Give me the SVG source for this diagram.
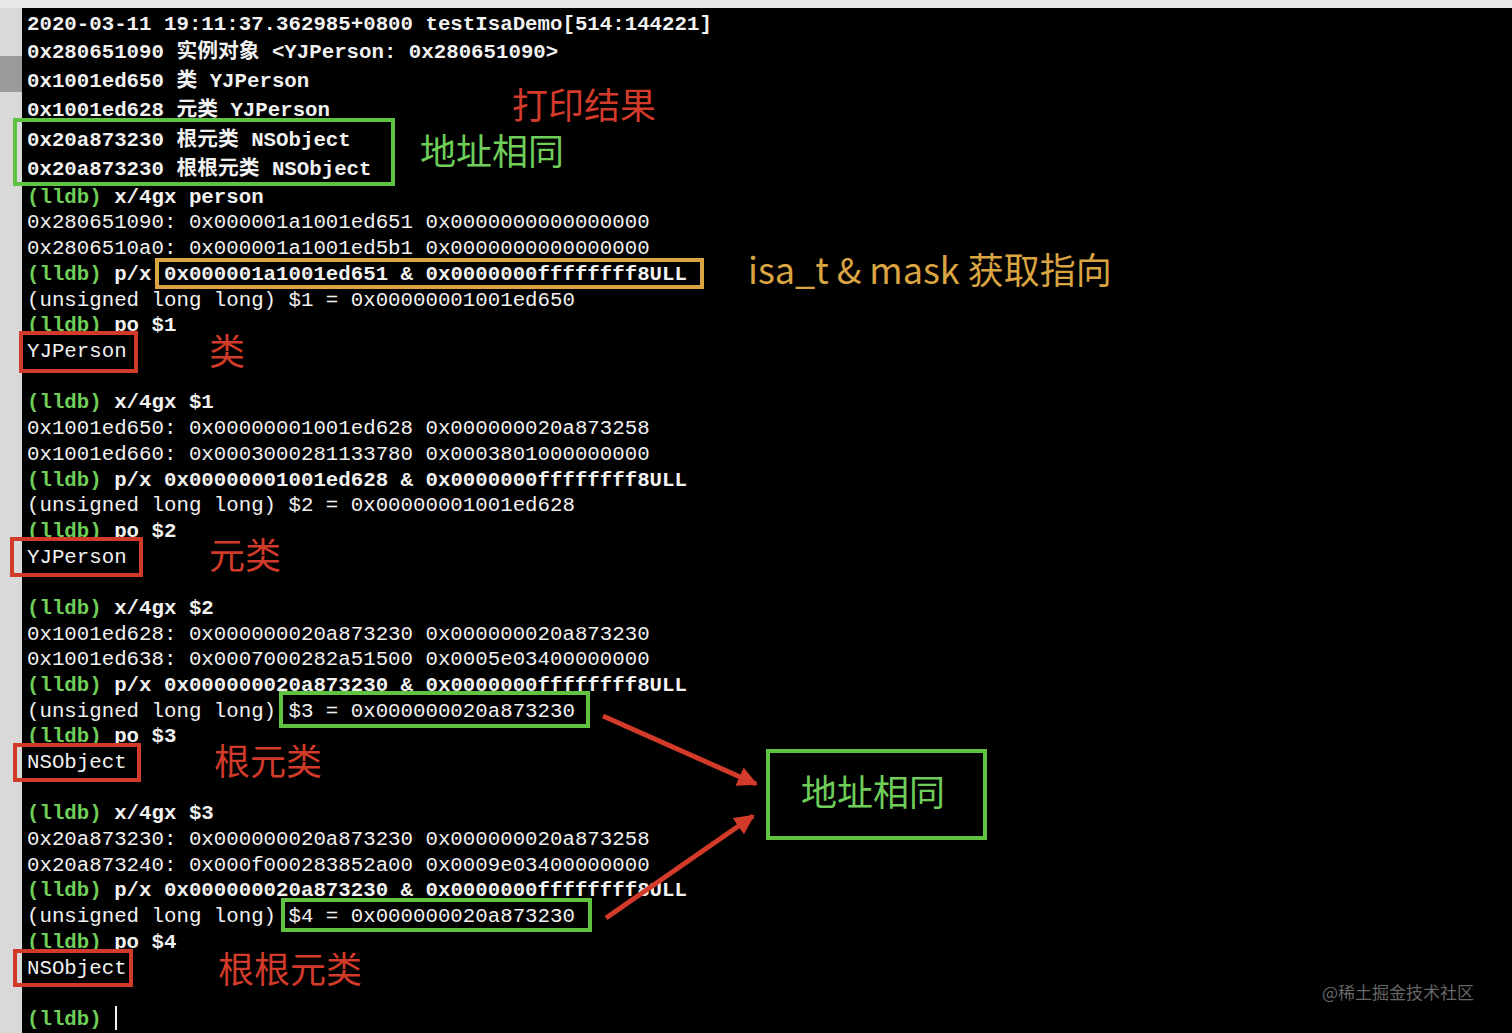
<svg xmlns="http://www.w3.org/2000/svg" width="1512" height="1033" viewBox="0 0 1512 1033">
<style>
.t{font-family:"Liberation Mono","Noto Sans CJK SC",monospace;font-size:20.75px;fill:#f2f2f2;white-space:pre}
.b{font-weight:bold}
.g{fill:#6fce5a}
.r{font-weight:normal}
.red{fill:none;stroke:#d23a2a;stroke-width:4}
.grn{fill:none;stroke:#5fc240;stroke-width:4}
.ann{font-family:"Noto Sans CJK SC","Liberation Sans",sans-serif;font-size:36px}
</style>
<defs><marker id="ah" viewBox="0 0 10 10" refX="9" refY="5" markerWidth="4" markerHeight="4" orient="auto"><path d="M0,0L10,5L0,10z" fill="#d23a2a"/></marker></defs>
<rect width="1512" height="1033" fill="#000"/>
<rect width="22" height="1033" fill="#d9d9d9"/>
<rect x="0" y="56" width="22" height="36" fill="#9a9a9a"/>
<rect width="1512" height="8" fill="#e8e8e8"/>
<g id="terminal" class="t b" xml:space="preserve">
<text x="27" y="30">2020-03-11 19:11:37.362985+0800 testIsaDemo[514:144221]</text>
<text x="27" y="58">0x280651090 实例对象 &lt;YJPerson: 0x280651090&gt;</text>
<text x="27" y="87">0x1001ed650 类 YJPerson</text>
<text x="27" y="116">0x1001ed628 元类 YJPerson</text>
<text x="27" y="146">0x20a873230 根元类 NSObject</text>
<text x="27" y="175">0x20a873230 根根元类 NSObject</text>
<text x="27" y="203"><tspan class="g">(lldb)</tspan> x/4gx person</text>
<text x="27" y="228" class="r">0x280651090: 0x000001a1001ed651 0x0000000000000000</text>
<text x="27" y="254" class="r">0x2806510a0: 0x000001a1001ed5b1 0x0000000000000000</text>
<text x="27" y="280"><tspan class="g">(lldb)</tspan> p/x 0x000001a1001ed651 &amp; 0x0000000ffffffff8ULL</text>
<text x="27" y="306" class="r">(unsigned long long) $1 = 0x00000001001ed650</text>
<text x="27" y="331"><tspan class="g">(lldb)</tspan> po $1</text>
<text x="27" y="357" class="r">YJPerson</text>
<text x="27" y="408"><tspan class="g">(lldb)</tspan> x/4gx $1</text>
<text x="27" y="434" class="r">0x1001ed650: 0x00000001001ed628 0x000000020a873258</text>
<text x="27" y="460" class="r">0x1001ed660: 0x0003000281133780 0x0003801000000000</text>
<text x="27" y="486"><tspan class="g">(lldb)</tspan> p/x 0x00000001001ed628 &amp; 0x0000000ffffffff8ULL</text>
<text x="27" y="511" class="r">(unsigned long long) $2 = 0x00000001001ed628</text>
<text x="27" y="537"><tspan class="g">(lldb)</tspan> po $2</text>
<text x="27" y="563" class="r">YJPerson</text>
<text x="27" y="614"><tspan class="g">(lldb)</tspan> x/4gx $2</text>
<text x="27" y="640" class="r">0x1001ed628: 0x000000020a873230 0x000000020a873230</text>
<text x="27" y="665" class="r">0x1001ed638: 0x0007000282a51500 0x0005e03400000000</text>
<text x="27" y="691"><tspan class="g">(lldb)</tspan> p/x 0x000000020a873230 &amp; 0x0000000ffffffff8ULL</text>
<text x="27" y="717" class="r">(unsigned long long) $3 = 0x000000020a873230</text>
<text x="27" y="742"><tspan class="g">(lldb)</tspan> po $3</text>
<text x="27" y="768" class="r">NSObject</text>
<text x="27" y="819"><tspan class="g">(lldb)</tspan> x/4gx $3</text>
<text x="27" y="845" class="r">0x20a873230: 0x000000020a873230 0x000000020a873258</text>
<text x="27" y="871" class="r">0x20a873240: 0x000f000283852a00 0x0009e03400000000</text>
<text x="27" y="896"><tspan class="g">(lldb)</tspan> p/x 0x000000020a873230 &amp; 0x0000000ffffffff8ULL</text>
<text x="27" y="922" class="r">(unsigned long long) $4 = 0x000000020a873230</text>
<text x="27" y="948"><tspan class="g">(lldb)</tspan> po $4</text>
<text x="27" y="974" class="r">NSObject</text>
<text x="27" y="1025"><tspan class="g">(lldb)</tspan> </text>
</g>
<rect x="115" y="1006" width="2" height="24" fill="#f2f2f2"/>
<g id="annotations">
<rect class="grn" x="15" y="120" width="378" height="64"/>
<rect x="157" y="260" width="545" height="27" fill="none" stroke="#d9a441" stroke-width="4"/>
<rect class="red" x="21" y="333" width="115" height="38"/>
<rect class="red" x="12" y="539" width="129" height="36"/>
<rect class="red" x="15" y="745" width="124" height="35"/>
<rect class="red" x="15" y="951" width="116" height="34"/>
<rect class="grn" x="281" y="693" width="307" height="33"/>
<rect class="grn" x="283" y="900" width="307" height="30"/>
<rect class="grn" x="768" y="751" width="217" height="87"/>
<text class="ann" x="512" y="119" fill="#d23a2a">打印结果</text>
<text class="ann" x="420" y="165" fill="#6fce5a">地址相同</text>
<text class="ann" x="748" y="284" fill="#d9a441">isa_t &amp; mask 获取指向</text>
<text class="ann" x="209" y="365" fill="#d23a2a">类</text>
<text class="ann" x="209" y="569" fill="#d23a2a">元类</text>
<text class="ann" x="214" y="775" fill="#d23a2a">根元类</text>
<text class="ann" x="218" y="983" fill="#d23a2a">根根元类</text>
<text class="ann" x="801" y="806" fill="#6fce5a">地址相同</text>
<text x="1322" y="999" font-family="Noto Sans CJK SC,sans-serif" font-size="17" fill="#666">@稀土掘金技术社区</text>
</g>
<g id="connectors" stroke="#d23a2a" stroke-width="5" fill="none">
<line x1="603" y1="716" x2="756" y2="784" marker-end="url(#ah)"/>
<line x1="606" y1="918" x2="753" y2="816" marker-end="url(#ah)"/>
</g>
</svg>
